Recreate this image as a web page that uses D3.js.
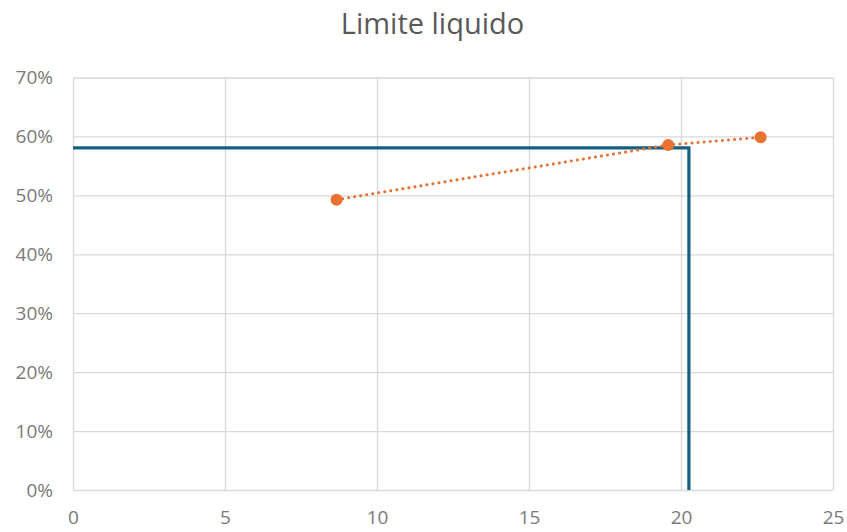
<!DOCTYPE html>
<html>
<head>
<meta charset="utf-8">
<script src="https://cdn.jsdelivr.net/npm/d3@7"></script>
<style>
  html, body { margin: 0; padding: 0; background: #fff; }
  svg { display: block; }
</style>
</head>
<body>
<svg id="chart" width="847" height="532"></svg>
<script>
// Liquid limit test: blow count (x) vs. moisture content (y)
const blows = [8.67, 19.58, 22.62];
const moisture = [0.4927, 0.5855, 0.5985];

// Reference lines marking the liquid limit reading
const limitBlows = [0, 20.26, 20.26];
const limitMoisture = [0.5805, 0.5805, 0];

const xTicks = [0, 5, 10, 15, 20, 25];
const yTicks = [0, 0.1, 0.2, 0.3, 0.4, 0.5, 0.6, 0.7];
const title = "Limite liquido";

const W = 847, H = 532;
const margin = { left: 73, right: W - 833, top: 77.5, bottom: H - 490 };
const svg = d3.select("#chart");

const x = d3.scaleLinear().domain([0, 25]).range([margin.left, W - margin.right]);
const y = d3.scaleLinear().domain([0, 0.7]).range([H - margin.bottom, margin.top]);

const gridColor = "#d9d9d9";
const textColor = "#7a7a7a";
const font = "'Open Sans', 'Noto Sans', sans-serif";

// Gridlines and tick labels
const yAxis = d3.axisLeft(y).tickValues(yTicks).tickFormat(d3.format(".0%"))
  .tickSize(-(x.range()[1] - x.range()[0])).tickPadding(20);
const xAxis = d3.axisBottom(x).tickValues(xTicks).tickFormat(d3.format("d"))
  .tickSize(-(y.range()[0] - y.range()[1])).tickPadding(21);

const gy = svg.append("g").attr("transform", `translate(${margin.left},0)`).call(yAxis);
const gx = svg.append("g").attr("transform", `translate(0,${H - margin.bottom})`).call(xAxis);

[gx, gy].forEach(g => {
  g.select(".domain").remove();
  g.selectAll(".tick line").attr("stroke", gridColor).attr("stroke-width", 1.3);
  g.selectAll(".tick text")
    .attr("fill", textColor)
    .style("font-family", font)
    .style("font-size", "19px");
});

// Liquid limit construction line
const limitLine = d3.line().x(d => x(d[0])).y(d => y(d[1]));
svg.append("path")
  .datum(limitBlows.map((b, i) => [b, limitMoisture[i]]))
  .attr("d", limitLine)
  .attr("fill", "none")
  .attr("stroke", "#156082")
  .attr("stroke-width", 3.2)
  .attr("stroke-linejoin", "miter");

// Test points joined by a dotted line
const pts = blows.map((b, i) => [b, moisture[i]]);
svg.append("path")
  .datum(pts)
  .attr("d", limitLine)
  .attr("fill", "none")
  .attr("stroke", "#E97132")
  .attr("stroke-width", 3)
  .attr("stroke-linecap", "round")
  .attr("stroke-dasharray", "0.1 6");

svg.selectAll("circle.pt")
  .data(pts)
  .join("circle")
  .attr("class", "pt")
  .attr("cx", d => x(d[0]))
  .attr("cy", d => y(d[1]))
  .attr("r", 6)
  .attr("fill", "#E97132");

// Title
svg.append("text")
  .attr("x", 432.5)
  .attr("y", 34)
  .attr("text-anchor", "middle")
  .attr("fill", "#595959")
  .style("font-family", font)
  .style("font-size", "29px")
  .text(title);
</script>
</body>
</html>
